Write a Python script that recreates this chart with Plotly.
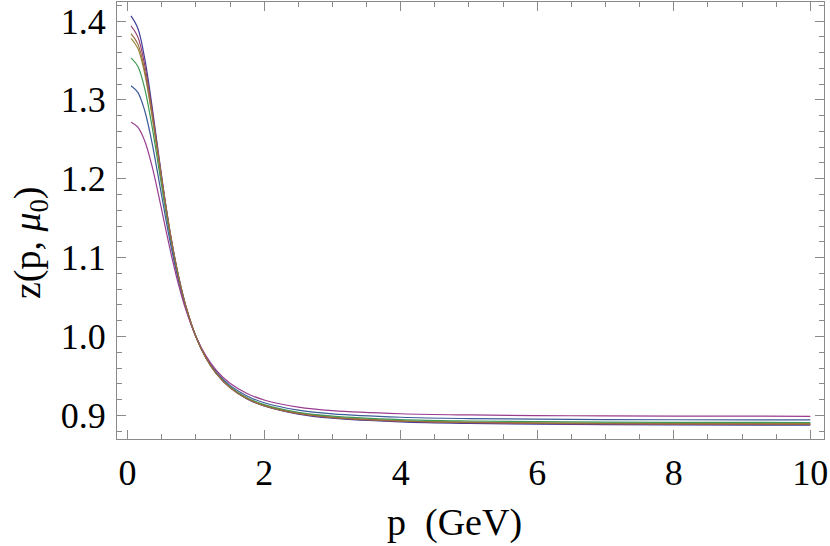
import plotly.graph_objects as go

# momentum grid (GeV)
p = [0.05, 0.15, 0.25, 0.35, 0.45, 0.55, 0.65, 0.75, 0.85, 1.0, 1.15, 1.3,
     1.5, 1.75, 2.0, 2.5, 3.0, 4.0, 5.0, 6.5, 8.0, 10.0]

z_indigo = [1.4065, 1.3908, 1.3528, 1.2970, 1.2336, 1.1724, 1.1189, 1.0748, 1.0395, 1.0000, 0.9724, 0.9529,
            0.9351, 0.9209, 0.9118, 0.9016, 0.8964, 0.8917, 0.8897, 0.8884, 0.8879, 0.8875]
z_magenta = [1.3940, 1.3799, 1.3447, 1.2918, 1.2308, 1.1710, 1.1183, 1.0745, 1.0394, 1.0000, 0.9725, 0.9530,
             0.9353, 0.9212, 0.9122, 0.9021, 0.8971, 0.8925, 0.8906, 0.8893, 0.8888, 0.8885]
z_gold = [1.3781, 1.3656, 1.3335, 1.2842, 1.2263, 1.1686, 1.1171, 1.0740, 1.0391, 1.0000, 0.9726, 0.9532,
          0.9356, 0.9215, 0.9127, 0.9027, 0.8978, 0.8933, 0.8914, 0.8903, 0.8897, 0.8894]
z_green = [1.3533, 1.3426, 1.3145, 1.2704, 1.2173, 1.1632, 1.1141, 1.0724, 1.0385, 1.0000, 0.9729, 0.9537,
           0.9362, 0.9223, 0.9136, 0.9038, 0.8990, 0.8946, 0.8928, 0.8917, 0.8912, 0.8909]
z_blue = [1.3180, 1.3095, 1.2865, 1.2490, 1.2024, 1.1537, 1.1084, 1.0693, 1.0370, 1.0000, 0.9737, 0.9550,
          0.9380, 0.9245, 0.9159, 0.9065, 0.9018, 0.8976, 0.8959, 0.8949, 0.8944, 0.8942]
z_purple = [1.2716, 1.2655, 1.2482, 1.2188, 1.1808, 1.1395, 1.0998, 1.0645, 1.0347, 1.0000, 0.9750, 0.9571,
            0.9407, 0.9277, 0.9195, 0.9104, 0.9059, 0.9020, 0.9005, 0.8995, 0.8991, 0.8988]
z_orange = [1.3841, 1.3710, 1.3378, 1.2872, 1.2282, 1.1698, 1.1177, 1.0743, 1.0393, 1.0000, 0.9725, 0.9531,
            0.9354, 0.9213, 0.9124, 0.9024, 0.8974, 0.8928, 0.8910, 0.8898, 0.8893, 0.8889]

series = [z_indigo, z_magenta, z_gold, z_green, z_blue, z_purple, z_orange]
colors = ["#3F3D99", "#993D71", "#998B3D", "#3D9956", "#3D5A99", "#993D8F", "#996D3D"]

x_ticks = [0, 2, 4, 6, 8, 10]
y_ticks = [0.9, 1.0, 1.1, 1.2, 1.3, 1.4]

fig = go.Figure()
for z, c in zip(series, colors):
    fig.add_trace(go.Scatter(x=p, y=z, mode="lines",
                             line=dict(color=c, width=1.2, shape="spline", smoothing=1.0),
                             showlegend=False, hoverinfo="skip"))

frame = "#8a8a8a"
font = "Liberation Serif"
fig.update_layout(
    width=830, height=546,
    margin=dict(l=117, r=6, t=2, b=107),
    paper_bgcolor="white", plot_bgcolor="white",
    font=dict(family=font, color="black", size=30),
    xaxis=dict(range=[-0.155, 10.2], tickvals=x_ticks, ticks="inside", ticklen=9, tickwidth=1,
               tickcolor=frame, showline=True, linecolor=frame, linewidth=1.3, mirror="allticks",
               showgrid=False, zeroline=False, tickfont=dict(family=font, size=36),
               ticklabelstandoff=2,
               minor=dict(dtick=0.5, tick0=0, ticks="inside", ticklen=5, tickcolor=frame, showgrid=False)),
    yaxis=dict(range=[0.870, 1.4241], tickvals=y_ticks, tickformat=".1f", ticks="inside", ticklen=9,
               tickwidth=1, tickcolor=frame, showline=True, linecolor=frame, linewidth=1.3,
               mirror="allticks", showgrid=False, zeroline=False, tickfont=dict(family=font, size=36),
               ticklabelstandoff=3,
               minor=dict(dtick=0.02, tick0=0.9, ticks="inside", ticklen=5, tickcolor=frame, showgrid=False)),
    annotations=[
        dict(text="p  (GeV)", xref="paper", yref="paper", x=0.478, y=-0.19, showarrow=False,
             xanchor="center", yanchor="middle", font=dict(family=font, size=38)),
        dict(text="z(p, <i>μ</i><sub>0</sub>)", xref="paper", yref="paper", x=-0.123, y=0.4485,
             showarrow=False, textangle=-90, xanchor="center", yanchor="middle",
             font=dict(family=font, size=38)),
    ],
)

fig.write_html("out.html", config={"displayModeBar": False},
               post_script="document.body.style.margin='0px';")
